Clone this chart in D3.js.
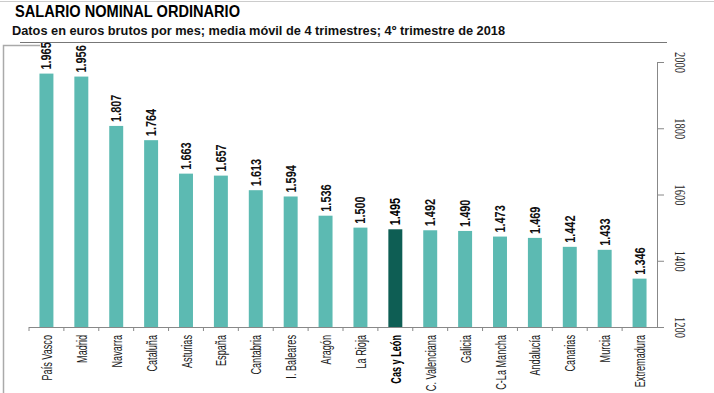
<!DOCTYPE html>
<html>
<head>
<meta charset="utf-8">
<script src="https://cdn.jsdelivr.net/npm/d3@7"></script>
<style>
  body { margin: 0; background: #fff; }
  svg { display: block; }
</style>
</head>
<body>
<svg width="714" height="393"></svg>
<script>
// data
const categories = ['País Vasco', 'Madrid', 'Navarra', 'Cataluña', 'Asturias', 'España', 'Cantabria',
  'I. Baleares', 'Aragón', 'La Rioja', 'Cas y León', 'C. Valenciana', 'Galicia', 'C-La Mancha',
  'Andalucía', 'Canarias', 'Murcia', 'Extremadura'];
const values = [1965, 1956, 1807, 1764, 1663, 1657, 1613, 1594, 1536, 1500, 1495, 1492, 1490, 1473,
  1469, 1442, 1433, 1346];
const highlight = 'Cas y León';
const yTicks = [1200, 1400, 1600, 1800, 2000];

const svg = d3.select('svg');
const width = +svg.attr('width');

const teal = '#5cbab2';
const darkTeal = '#0e5e54';
const narrow = '"Liberation Sans Narrow", "Arial Narrow", sans-serif';

// frame lines
svg.append('line').attr('x1', 0).attr('x2', width).attr('y1', 1.5).attr('y2', 1.5)
  .attr('stroke', '#ccc').attr('stroke-width', 1);
svg.append('line').attr('x1', 20).attr('x2', 667).attr('y1', 42.5).attr('y2', 42.5)
  .attr('stroke', '#777').attr('stroke-width', 1);
svg.append('path').attr('d', 'M3.5,393 V45.5 H40')
  .attr('fill', 'none').attr('stroke', '#aaa').attr('stroke-width', 1.5);

// titles
svg.append('text')
  .attr('x', 15).attr('y', 17)
  .attr('font-family', 'Liberation Sans, Arial, sans-serif')
  .attr('font-weight', 'bold').attr('font-size', 16.5)
  .attr('textLength', 225).attr('lengthAdjust', 'spacingAndGlyphs')
  .text('SALARIO NOMINAL ORDINARIO');

svg.append('text')
  .attr('x', 12).attr('y', 35)
  .attr('font-family', 'Liberation Sans, Arial, sans-serif')
  .attr('font-weight', 'bold').attr('font-size', 13.5)
  .attr('fill', '#111')
  .attr('textLength', 493).attr('lengthAdjust', 'spacingAndGlyphs')
  .text('Datos en euros brutos por mes; media móvil de 4 trimestres; 4º trimestre de 2018');

// scales
const x = d3.scaleBand().domain(categories).range([29, 657]).paddingInner(0.6).paddingOuter(0.3);
const y = d3.scaleLinear().domain([1200, 2000]).range([327, 62]);

// bars
svg.append('g').selectAll('rect')
  .data(categories)
  .join('rect')
  .attr('x', d => x(d))
  .attr('width', x.bandwidth())
  .attr('y', (d, i) => y(values[i]))
  .attr('height', (d, i) => y(1200) - y(values[i]))
  .attr('fill', d => d === highlight ? darkTeal : teal);

// value labels
const fmt = v => d3.format(',')(v).replace(',', '.');
svg.append('g').selectAll('text')
  .data(categories)
  .join('text')
  .attr('transform', (d, i) => `translate(${x(d) + x.bandwidth() / 2 + 5},${y(values[i]) - 4}) rotate(-90) scale(0.78,1)`)
  .attr('font-family', narrow)
  .attr('font-weight', 'bold')
  .attr('font-size', 14)
  .attr('fill', d => d === highlight ? '#000' : '#111')
  .text((d, i) => fmt(values[i]));

// x axis
const xAxis = svg.append('g');
xAxis.append('line').attr('x1', 29).attr('x2', 657).attr('y1', 327.5).attr('y2', 327.5)
  .attr('stroke', '#888');
xAxis.selectAll('.tick')
  .data(categories)
  .join('line')
  .attr('x1', d => x(d) - x.step() * 0.3).attr('x2', d => x(d) - x.step() * 0.3)
  .attr('y1', 327).attr('y2', 331)
  .attr('stroke', '#888');
xAxis.selectAll('text')
  .data(categories)
  .join('text')
  .attr('transform', d => `translate(${x(d) + x.bandwidth() / 2 + 5.5},335) rotate(-90) scale(0.63,1)`)
  .attr('text-anchor', 'end')
  .attr('font-family', narrow)
  .attr('font-size', 14.5)
  .attr('font-weight', d => d === highlight ? 'bold' : 'normal')
  .attr('fill', d => d === highlight ? '#000' : '#1a1a1a')
  .text(d => d);

// right y axis
const yAxis = svg.append('g').attr('transform', 'translate(657,0)')
  .call(d3.axisRight(y).tickValues(yTicks).tickSize(7).tickFormat(d3.format('d')));
yAxis.select('.domain').attr('stroke', '#888').attr('d', `M0.5,${y(2000)}V${y(1200)}`);
yAxis.selectAll('.tick line').attr('stroke', '#888');
yAxis.selectAll('.tick text')
  .attr('x', 0).attr('y', 0).attr('dy', '0.35em')
  .attr('transform', 'translate(23,0) rotate(90) scale(0.75,1)')
  .attr('text-anchor', 'middle')
  .attr('font-family', '"Liberation Serif", serif')
  .attr('font-size', 14)
  .attr('fill', '#222');
</script>
</body>
</html>
